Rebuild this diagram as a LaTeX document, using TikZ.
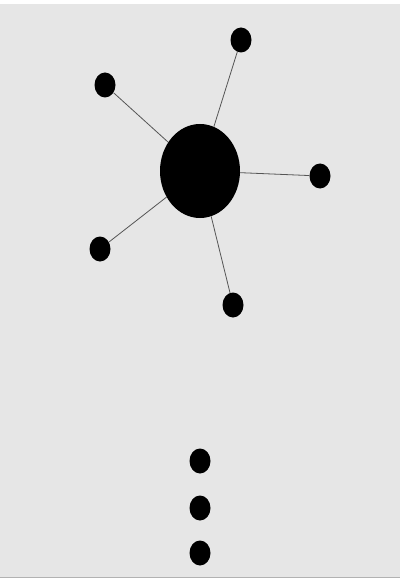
\documentclass[tikz,border=0pt]{standalone}
\usetikzlibrary{shapes.geometric}

\definecolor{paper}{HTML}{E6E6E6}
\definecolor{spoke}{HTML}{555555}

\tikzset{
    hubnode/.style={ellipse, fill=black, minimum width=80pt, minimum height=94pt, inner sep=0pt},
    leafnode/.style={ellipse, fill=black, minimum width=21pt, minimum height=25pt, inner sep=0pt},
    spokeline/.style={draw=spoke, line width=0.8pt}
}

\begin{document}
\begin{tikzpicture}[x=1pt, y=-1pt]
    % Background
    \useasboundingbox (0,0) rectangle (400,580);
    \fill[paper] (0,4) rectangle (400,577);
    \draw[gray!60, line width=1pt] (0,577) -- (400,577);

    % Hub
    \node[hubnode] (hub) at (200,171) {};

    % Leaves and spokes
    \foreach \n/\x/\y in {1/241/40, 2/105/85, 3/320/176, 4/100/249, 5/233/305} {
        \node[leafnode] (leaf\n) at (\x,\y) {};
        \draw[spokeline] (hub) -- (leaf\n);
    }

    % Vertical ellipsis
    \foreach \n/\y in {1/461, 2/508, 3/553} {
        \node[leafnode] (dot\n) at (200,\y) {};
    }
\end{tikzpicture}
\end{document}
